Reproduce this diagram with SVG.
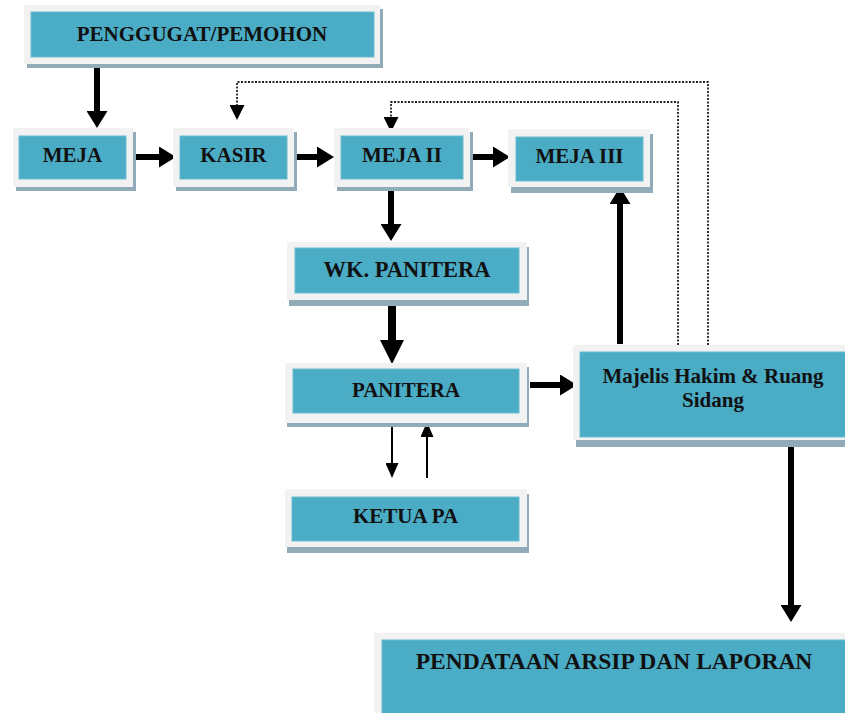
<svg xmlns="http://www.w3.org/2000/svg" width="845" height="713" viewBox="0 0 845 713">
<defs>
<style>
.sh{fill:#92abb8}
.fr{fill:#f2f2f2}
.tl{fill:#4bacc6;stroke:#6cbcd2;stroke-width:1}
.tx{font-family:"Liberation Serif","Times New Roman",serif;font-weight:bold;font-size:21px;fill:#111;text-anchor:middle}
.thick{stroke:#000;stroke-width:6;fill:none}
.xthick{stroke:#000;stroke-width:8;fill:none}
.thin{stroke:#000;stroke-width:2;fill:none}
.dot{stroke:#222;stroke-width:1.8;stroke-dasharray:2 1.5;fill:none}
</style>
<marker id="aL" markerUnits="userSpaceOnUse" markerWidth="17" markerHeight="21" refX="0" refY="10.5" orient="auto"><path d="M0,0 L17,10.5 L0,21 z" fill="#000"/></marker>
<marker id="aXL" markerUnits="userSpaceOnUse" markerWidth="24" markerHeight="24" refX="0" refY="12" orient="auto"><path d="M0,0 L24,12 L0,24 z" fill="#000"/></marker>
<marker id="aS" markerUnits="userSpaceOnUse" markerWidth="15" markerHeight="13" refX="0" refY="6.5" orient="auto"><path d="M0,0 L15,6.5 L0,13 z" fill="#000"/></marker>
<marker id="aD" markerUnits="userSpaceOnUse" markerWidth="15" markerHeight="15" refX="0" refY="7.5" orient="auto"><path d="M0,0 L15,7.5 L0,15 z" fill="#000"/></marker>
</defs>
<rect width="845" height="713" fill="#fff"/>

<g id="connectors">
<line class="thick" x1="97" y1="65" x2="97" y2="111" marker-end="url(#aL)"/>
<line class="thick" x1="134" y1="157" x2="159" y2="157" marker-end="url(#aL)"/>
<line class="thick" x1="292" y1="157" x2="317" y2="157" marker-end="url(#aL)"/>
<line class="thick" x1="471" y1="157" x2="493" y2="157" marker-end="url(#aL)"/>
<line class="thick" x1="391" y1="188" x2="391" y2="224" marker-end="url(#aL)"/>
<line class="xthick" x1="392" y1="301" x2="392" y2="340" marker-end="url(#aXL)"/>
<line class="thick" x1="530" y1="385" x2="560" y2="385" marker-end="url(#aL)"/>
<line class="thick" x1="620" y1="344" x2="620" y2="204" marker-end="url(#aL)"/>
<line class="thick" x1="791" y1="446" x2="791" y2="605" marker-end="url(#aL)"/>
<line class="thin" x1="392" y1="416" x2="392" y2="463" marker-end="url(#aS)"/>
<line class="thin" x1="427" y1="478" x2="427" y2="437" marker-end="url(#aS)"/>
<polyline class="dot" points="708,345 708,82 237,82 237,105" marker-end="url(#aD)"/>
<polyline class="dot" points="678,345 678,102 391,102 391,117" marker-end="url(#aD)"/>
</g>

<g id="penggugat">
<rect class="sh" x="27" y="9" width="356" height="59"/>
<rect class="fr" x="24" y="5" width="356" height="59"/>
<rect class="tl" x="31" y="12" width="343" height="45"/>
<text class="tx" x="202" y="41">PENGGUGAT/PEMOHON</text>
</g>
<g id="meja">
<rect class="sh" x="16" y="132" width="120" height="59"/>
<rect class="fr" x="13" y="128" width="120" height="59"/>
<rect class="tl" x="19" y="136" width="107" height="43"/>
<text class="tx" x="72.5" y="162">MEJA</text>
</g>
<g id="kasir">
<rect class="sh" x="176" y="132" width="121" height="59"/>
<rect class="fr" x="173" y="128" width="121" height="59"/>
<rect class="tl" x="180" y="136" width="107" height="43"/>
<text class="tx" x="233.5" y="162">KASIR</text>
</g>
<g id="meja2">
<rect class="sh" x="337" y="132" width="136" height="59"/>
<rect class="fr" x="334" y="128" width="136" height="59"/>
<rect class="tl" x="341" y="136" width="122" height="43"/>
<text class="tx" x="402" y="162">MEJA II</text>
</g>
<g id="meja3">
<rect class="sh" x="511" y="134" width="142" height="59"/>
<rect class="fr" x="508" y="129" width="142" height="58"/>
<rect class="tl" x="516" y="137" width="127" height="44"/>
<text class="tx" x="579.5" y="163">MEJA III</text>
</g>
<g id="wk-panitera">
<rect class="sh" x="289" y="247" width="240" height="59"/>
<rect class="fr" x="287" y="242" width="240" height="58"/>
<rect class="tl" x="295" y="248" width="224" height="45"/>
<text class="tx" x="407" y="277" style="font-size:22.5px">WK. PANITERA</text>
</g>
<g id="panitera">
<rect class="sh" x="287" y="367" width="242" height="60"/>
<rect class="fr" x="285" y="363" width="242" height="60"/>
<rect class="tl" x="293" y="369" width="226" height="44"/>
<text class="tx" x="406" y="397">PANITERA</text>
</g>
<g id="ketua-pa">
<rect class="sh" x="287" y="494" width="242" height="59"/>
<rect class="fr" x="285" y="489" width="242" height="58"/>
<rect class="tl" x="292" y="497" width="227" height="44"/>
<text class="tx" x="405.5" y="523">KETUA PA</text>
</g>
<g id="majelis">
<rect class="sh" x="576" y="350" width="280" height="97"/>
<rect class="fr" x="573" y="345" width="280" height="95"/>
<rect class="tl" x="580" y="352" width="270" height="85"/>
<text class="tx" x="713" y="383">Majelis Hakim &amp; Ruang</text>
<text class="tx" x="713" y="407">Sidang</text>
</g>
<g id="pendataan">
<rect class="fr" x="374" y="633" width="480" height="90"/>
<rect class="tl" x="382" y="640" width="470" height="80"/>
<text class="tx" x="614" y="669" style="font-size:23.5px">PENDATAAN ARSIP DAN LAPORAN</text>
</g>
</svg>
